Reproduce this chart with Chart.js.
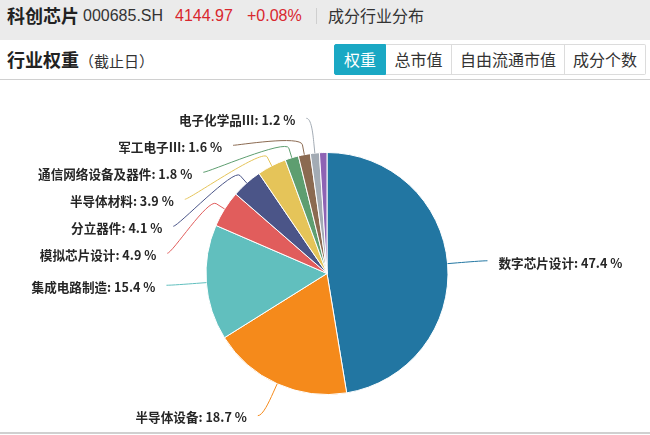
<!DOCTYPE html>
<html>
<head>
<meta charset="utf-8">
<script src="https://cdn.jsdelivr.net/npm/chart.js@4.4.1/dist/chart.umd.min.js"></script>
<style>
    body { margin: 0; width: 650px; height: 435px; overflow: hidden; background: #fff; position: relative;
           font-family: "Noto Sans CJK SC", sans-serif; color: #333; }
    .topbar { position: absolute; left: 0; top: 0; width: 650px; height: 40px; background: #ebebeb; }
    .abs { position: absolute; white-space: nowrap; }
    .name { left: 7px; top: 0; line-height: 31px; font-size: 18px; font-weight: bold; color: #222; }
    .num { top: 0; line-height: 31px; font-size: 16px; font-family: "Liberation Sans", Arial, sans-serif; }
    .red { color: #d9272e; }
    .sep { left: 316px; top: 8px; width: 1px; height: 16px; background: #cfcfcf; }
    .sub { left: 328px; top: 0; line-height: 31px; font-size: 16px; color: #333; }
    .title { left: 7px; top: 44px; line-height: 31px; font-size: 18px; font-weight: bold; color: #222; }
    .title span { font-size: 15px; font-weight: normal; color: #333; }
    .tabs { position: absolute; left: 334px; top: 44px; height: 31px; display: flex; }
    .tabs div { box-sizing: border-box; height: 31px; line-height: 29px; font-size: 16px; text-align: center;
                border: 1px solid #dcdcdc; border-left: none; background: #fff; color: #333; }
    .tabs div:first-child { border: 1px solid #1aa8c4; background: #1aa8c4; color: #fff; border-radius: 2px 0 0 2px; }
    .tabs div:last-child { border-radius: 0 2px 2px 0; }
    .rule { position: absolute; left: 0; width: 650px; height: 1px; background: #d0d0d0; }
    #pie { position: absolute; left: 0; top: 80px; }
</style>
</head>
<body>
<div class="topbar"></div>
<div class="abs name">科创芯片</div>
<div class="abs num" style="left:83px">000685.SH</div>
<div class="abs num red" style="left:175px">4144.97</div>
<div class="abs num red" style="left:247px">+0.08%</div>
<div class="abs sep"></div>
<div class="abs sub">成分行业分布</div>
<div class="abs title">行业权重<span>（截止日）</span></div>
<div class="tabs">
    <div style="width:52px">权重</div>
    <div style="width:66px">总市值</div>
    <div style="width:113px">自由流通市值</div>
    <div style="width:81px">成分个数</div>
</div>
<div class="rule" style="top:79px"></div>
<canvas id="pie" width="650" height="352"></canvas>
<div class="rule" style="top:432px;height:2px"></div>
<script>
    // industry weights (%), clockwise from 12 o'clock
    const industries = ['数字芯片设计', '半导体设备', '集成电路制造', '模拟芯片设计', '分立器件',
                        '半导体材料', '通信网络设备及器件', '军工电子Ⅲ', '电子化学品Ⅲ', '其他'];
    const weights = [47.4, 18.7, 15.4, 4.9, 4.1, 3.9, 1.8, 1.6, 1.2, 1.0];
    const sliceColors = ['#2276a2', '#f58a1b', '#61bfbe', '#e15d5c', '#4b5588',
                         '#e5c459', '#5e9e70', '#8b6a51', '#a3abb4', '#8e63b4'];
    const hiddenLabels = ['其他'];

    const LEN1 = 35, LEN2 = 5, OFF = 10, GAP = 27, TEXT_GAP = 11;

    // echarts-like outside labels: stack per side, keep on an ellipse
    const outerLabels = {
        id: 'outerLabels',
        afterDatasetsDraw(chart) {
            const ctx = chart.ctx;
            const arcs = chart.getDatasetMeta(0).data;
            const items = [];
            arcs.forEach((arc, i) => {
                if (hiddenLabels.includes(industries[i])) return;
                const p = arc.getProps(['x', 'y', 'startAngle', 'endAngle', 'outerRadius'], true);
                const mid = (p.startAngle + p.endAngle) / 2;
                const cos = Math.cos(mid), sin = Math.sin(mid);
                const r = p.outerRadius;
                items.push({
                    i, cx: p.x, cy: p.y, r, cos, sin,
                    x1: p.x + cos * r, y1: p.y + sin * r,
                    x2: p.x + cos * (r + LEN1),
                    y: p.y + sin * (r + LEN1),
                    dir: cos < 0 ? -1 : 1
                });
            });

            [-1, 1].forEach(dir => {
                const side = items.filter(it => it.dir === dir).sort((a, b) => a.y - b.y);
                for (let k = 1; k < side.length; k++) {
                    if (side[k].y - side[k - 1].y < GAP) side[k].y = side[k - 1].y + GAP;
                }
                [true, false].forEach(top => {
                    const semi = side.filter(it => (it.y <= it.cy) === top);
                    if (!semi.length) return;
                    let far = semi[0];
                    semi.forEach(it => { if (Math.abs(it.y - it.cy) >= Math.abs(far.y - far.cy)) far = it; });
                    const rA = far.r + LEN1;
                    const fdx = far.x2 - far.cx, fdy = Math.abs(far.y - far.cy);
                    const rB = Math.abs(fdx) < rA ? Math.sqrt(fdy * fdy / (1 - fdx * fdx / rA / rA)) : rA;
                    semi.forEach(it => {
                        const dy = Math.abs(it.y - it.cy);
                        const dx = Math.sqrt(Math.max(0, 1 - dy * dy / rB / rB)) * (it.r + LEN1);
                        it.x3 = it.cx + (dx + LEN2) * dir;
                    });
                });
            });

            ctx.save();
            ctx.lineWidth = 1;
            ctx.font = 'bold 12.6px "Noto Sans CJK SC"';
            ctx.textBaseline = 'middle';
            items.forEach(it => {
                const bx = it.x1 + it.cos * OFF, by = it.y1 + it.sin * OFF;
                ctx.strokeStyle = sliceColors[it.i];
                ctx.beginPath();
                ctx.moveTo(it.x3, it.y);
                ctx.bezierCurveTo(it.x3 - it.dir * 5, it.y, 2 * bx - it.x1, 2 * by - it.y1, bx, by);
                ctx.lineTo(it.x1, it.y1);
                ctx.stroke();
                ctx.fillStyle = '#262626';
                ctx.textAlign = it.dir < 0 ? 'right' : 'left';
                ctx.fillText(industries[it.i] + ': ' + weights[it.i].toFixed(1) + ' %', it.x3 + it.dir * TEXT_GAP, it.y + 2);
            });
            ctx.restore();
        }
    };

    new Chart(document.getElementById('pie').getContext('2d'), {
        type: 'pie',
        data: {
            labels: industries,
            datasets: [{ data: weights, backgroundColor: sliceColors, borderColor: '#fff', borderWidth: 1 }]
        },
        options: {
            responsive: false,
            animation: false,
            layout: { padding: { left: 205, right: 201, top: 72, bottom: 37 } },
            plugins: { legend: { display: false }, tooltip: { enabled: false } }
        },
        plugins: [outerLabels]
    });
</script>
</body>
</html>
